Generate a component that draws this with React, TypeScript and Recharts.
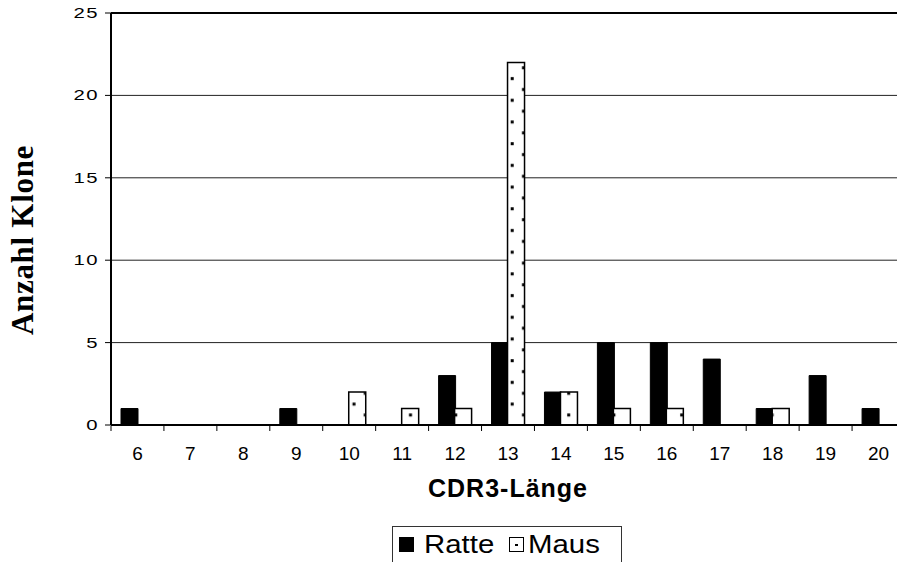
import { BarChart, Bar, XAxis, YAxis, CartesianGrid, ReferenceLine, Legend, Label } from 'recharts';

const lengths = ['6', '7', '8', '9', '10', '11', '12', '13', '14', '15', '16', '17', '18', '19', '20'];
const ratte = [1, 0, 0, 1, 0, 0, 3, 5, 2, 5, 5, 4, 1, 3, 1];
const maus = [0, 0, 0, 0, 2, 1, 1, 22, 2, 1, 1, 0, 1, 0, 0];
const yTicks = [0, 5, 10, 15, 20, 25];
const seriesOrder = ['ratte', 'maus'];

const data = lengths.map((len, i) => ({ len, ratte: ratte[i], maus: maus[i] }));

const SANS = '"Liberation Sans", Arial, Helvetica, sans-serif';
const SERIF = '"Liberation Serif", "Times New Roman", serif';

const CHART_W = 910;
const CHART_H = 562;
const Y_AXIS_W = 111;
const MARGIN = { top: 13, right: 5, left: 0, bottom: 0 };
const BAND = (CHART_W - MARGIN.right - MARGIN.left - Y_AXIS_W) / lengths.length;

// category label in the middle, tick mark on the left boundary of the band
const XTick = (props: any) => {
    const { x, y, payload } = props;
    const bx = x - BAND / 2;
    return (
        <g>
            <line x1={bx} y1={y + 1} x2={bx} y2={y + 6} stroke="#000" strokeWidth={1} />
            <text x={x} y={y + 34.5} textAnchor="middle" fontFamily={SANS} fontSize={19} fill="#000">
                {payload.value}
            </text>
        </g>
    );
};

// the y labels in the original are drawn wide, so stretch them a little
const YTick = (props: any) => {
    const { x, y, payload } = props;
    return (
        <text
            transform={`translate(${x - 4},${y + 5}) scale(1.45,1)`}
            textAnchor="end"
            fontFamily={SANS}
            fontSize={14}
            letterSpacing={1}
            fill="#000"
        >
            {payload.value}
        </text>
    );
};

const LegendBox = (props: any) => {
    const items = [...(props.payload || [])].sort(
        (a: any, b: any) => seriesOrder.indexOf(a.dataKey) - seriesOrder.indexOf(b.dataKey),
    );
    const left = [6, 116];
    const textLeft = [31, 135];
    return (
        <div
            style={{
                position: 'relative',
                width: 230,
                height: 44,
                border: '1px solid #333',
                boxSizing: 'border-box',
                background: '#fff',
                fontFamily: SANS,
            }}
        >
            {items.map((it: any, i: number) => (
                <div key={it.value}>
                    {it.dataKey === 'ratte' ? (
                        <div style={{ position: 'absolute', left: left[i], top: 10, width: 15, height: 15, background: '#000' }} />
                    ) : (
                        <div
                            style={{
                                position: 'absolute',
                                left: left[i],
                                top: 10,
                                width: 15,
                                height: 15,
                                border: '1px solid #000',
                                boxSizing: 'border-box',
                                background: '#fff',
                            }}
                        >
                            <div style={{ position: 'absolute', left: 5, top: 5.5, width: 2.5, height: 2.5, background: '#000' }} />
                        </div>
                    )}
                    <span
                        style={{
                            position: 'absolute',
                            left: textLeft[i],
                            top: 4,
                            fontSize: 26,
                            lineHeight: '26px',
                            color: '#000',
                            transform: 'scaleX(1.13)',
                            transformOrigin: 'left center',
                            whiteSpace: 'nowrap',
                        }}
                    >
                        {it.value}
                    </span>
                </div>
            ))}
        </div>
    );
};

export default function App() {
    return (
        <div
            style={{
                position: 'absolute',
                left: 0,
                top: 0,
                width: 897,
                height: 562,
                overflow: 'hidden',
                background: '#fff',
            }}
        >
            <BarChart width={CHART_W} height={CHART_H} data={data} margin={MARGIN} barSize={17} barGap={-1}>
                <defs>
                    <pattern id="mausDots" patternUnits="userSpaceOnUse" width={22.6} height={21.7}>
                        <rect width={22.6} height={21.7} fill="#fff" />
                        <rect x={13.5} y={12} width={3} height={3} fill="#000" />
                        <rect x={2.2} y={1.2} width={3} height={3} fill="#000" />
                    </pattern>
                </defs>
                <CartesianGrid vertical={false} stroke="#222" strokeWidth={1} />
                <ReferenceLine y={25} stroke="#000" strokeWidth={2} />
                <XAxis
                    dataKey="len"
                    height={137}
                    interval={0}
                    tickSize={0}
                    tickMargin={0}
                    tickLine={false}
                    axisLine={{ stroke: '#000', strokeWidth: 2 }}
                    tick={<XTick />}
                >
                    <Label
                        content={(p: any) => {
                            const vb = p.viewBox;
                            return (
                                <text
                                    x={vb.x + vb.width / 2}
                                    y={vb.y + 72}
                                    textAnchor="middle"
                                    fontFamily={SANS}
                                    fontWeight="bold"
                                    fontSize={25}
                                    letterSpacing={1}
                                    fill="#000"
                                >
                                    CDR3-Länge
                                </text>
                            );
                        }}
                    />
                </XAxis>
                <YAxis
                    width={Y_AXIS_W}
                    domain={[0, 25]}
                    ticks={yTicks}
                    interval={0}
                    tickSize={6}
                    tickMargin={2}
                    axisLine={{ stroke: '#000', strokeWidth: 2 }}
                    tickLine={{ stroke: '#000', strokeWidth: 1 }}
                    tick={<YTick />}
                >
                    <Label
                        content={(p: any) => {
                            const vb = p.viewBox;
                            const cy = vb.y + vb.height / 2 + 21;
                            return (
                                <text
                                    x={33}
                                    y={cy}
                                    transform={`rotate(-90 33 ${cy})`}
                                    textAnchor="middle"
                                    fontFamily={SERIF}
                                    fontWeight="bold"
                                    fontSize={31}
                                    letterSpacing={0.7}
                                    fill="#000"
                                >
                                    Anzahl Klone
                                </text>
                            );
                        }}
                    />
                </YAxis>
                <Legend
                    layout="horizontal"
                    verticalAlign="middle"
                    content={<LegendBox />}
                    wrapperStyle={{ left: 392, top: 526, width: 230, height: 44 }}
                />
                <Bar dataKey="ratte" name="Ratte" fill="#000" stroke="#000" strokeWidth={1} isAnimationActive={false} />
                <Bar
                    dataKey="maus"
                    name="Maus"
                    fill="url(#mausDots)"
                    stroke="#000"
                    strokeWidth={1.5}
                    isAnimationActive={false}
                />
            </BarChart>
        </div>
    );
}
